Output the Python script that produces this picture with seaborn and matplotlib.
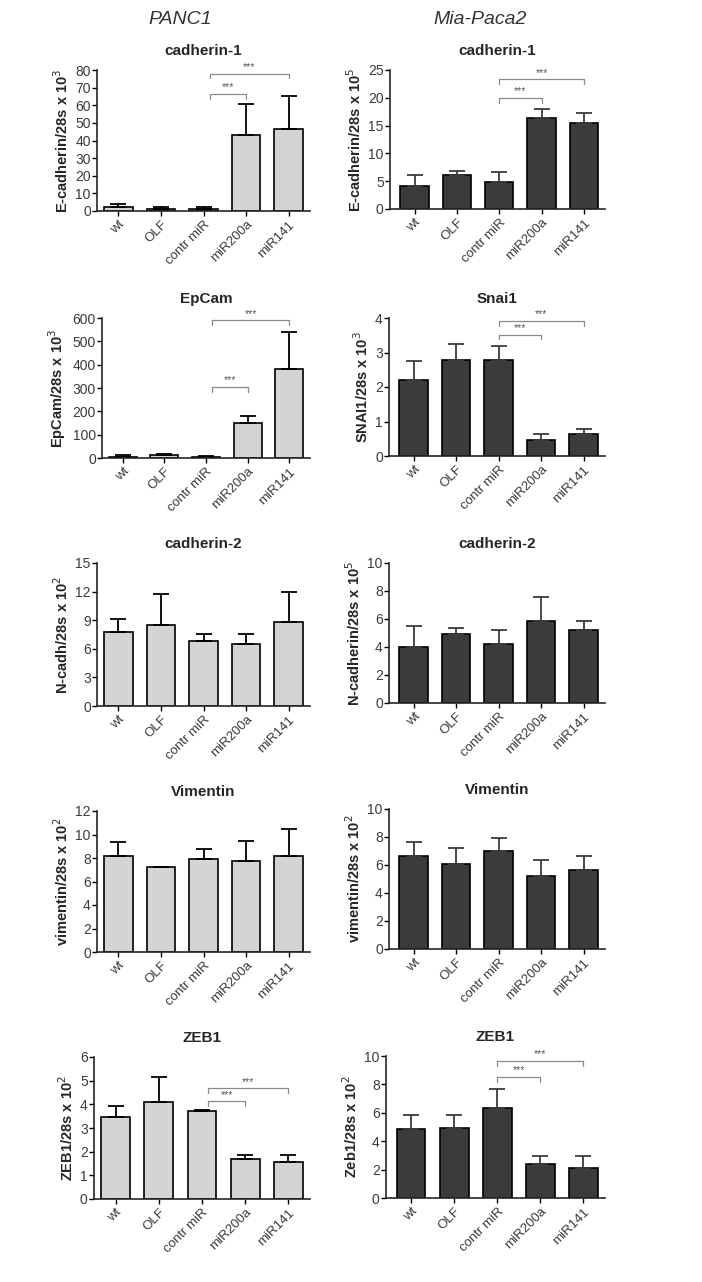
import matplotlib
matplotlib.use('Agg')
import matplotlib.pyplot as plt
import seaborn as sns
import pandas as pd

# categories shared by every panel
groups = ['wt', 'OLF', 'contr miR', 'miR200a', 'miR141']

# PANC1 (left column): bar means and upper error (SEM)
panc1_ecad = [2.1, 1.3, 1.1, 43.1, 46.3]
panc1_ecad_err = [1.9, 0.7, 0.9, 17.6, 18.7]
panc1_epcam = [6, 11, 6, 150, 381]
panc1_epcam_err = [5, 5, 4, 28, 157]
panc1_ncad = [7.8, 8.5, 6.85, 6.46, 8.78]
panc1_ncad_err = [1.3, 3.23, 0.67, 1.09, 3.2]
panc1_vim = [8.2, 7.23, 7.91, 7.72, 8.14]
panc1_vim_err = [1.16, 0.0, 0.83, 1.73, 2.3]
panc1_zeb = [3.47, 4.09, 3.70, 1.67, 1.57]
panc1_zeb_err = [0.45, 1.07, 0.04, 0.18, 0.30]

# Mia-Paca2 (right column)
mia_ecad = [4.07, 6.04, 4.78, 16.45, 15.55]
mia_ecad_err = [1.97, 0.76, 1.8, 1.45, 1.65]
mia_snai = [2.21, 2.77, 2.78, 0.45, 0.65]
mia_snai_err = [0.53, 0.47, 0.42, 0.18, 0.12]
mia_ncad = [4.02, 4.93, 4.19, 5.86, 5.22]
mia_ncad_err = [1.51, 0.40, 1.03, 1.70, 0.62]
mia_vim = [6.66, 6.06, 6.97, 5.18, 5.66]
mia_vim_err = [0.98, 1.15, 0.98, 1.19, 1.0]
mia_zeb = [4.85, 4.92, 6.32, 2.37, 2.11]
mia_zeb_err = [0.96, 0.93, 1.34, 0.56, 0.86]

left_titles = ['cadherin-1', 'EpCam', 'cadherin-2', 'Vimentin', 'ZEB1']
right_titles = ['cadherin-1', 'Snai1', 'cadherin-2', 'Vimentin', 'ZEB1']
left_ylabels = ['E-cadherin/28s x 10$^3$', 'EpCam/28s x 10$^3$', 'N-cadh/28s x 10$^2$',
                'vimentin/28s x 10$^2$', 'ZEB1/28s x 10$^2$']
right_ylabels = ['E-cadherin/28s x 10$^5$', 'SNAI1/28s x 10$^3$', 'N-cadherin/28s x 10$^5$',
                 'vimentin/28s x 10$^2$', 'Zeb1/28s x 10$^2$']
left_ymax = [80, 600, 15, 12, 6]
left_ystep = [10, 100, 3, 2, 1]
right_ymax = [25, 4, 10, 10, 10]
right_ystep = [5, 1, 2, 2, 2]

# significance brackets: (from group, to group, height as fraction of y max)
left_sig = [[(2, 3, 0.83), (2, 4, 0.975)],
            [(2, 3, 0.51), (2, 4, 0.985)],
            [], [],
            [(2, 3, 0.69), (2, 4, 0.78)]]
right_sig = [[(2, 3, 0.80), (2, 4, 0.935)],
             [(2, 3, 0.88), (2, 4, 0.98)],
             [], [],
             [(2, 3, 0.854), (2, 4, 0.967)]]

left_data = [(panc1_ecad, panc1_ecad_err), (panc1_epcam, panc1_epcam_err),
             (panc1_ncad, panc1_ncad_err), (panc1_vim, panc1_vim_err),
             (panc1_zeb, panc1_zeb_err)]
right_data = [(mia_ecad, mia_ecad_err), (mia_snai, mia_snai_err),
              (mia_ncad, mia_ncad_err), (mia_vim, mia_vim_err),
              (mia_zeb, mia_zeb_err)]

sns.set_style('ticks')
plt.rcParams['font.family'] = ['Liberation Sans', 'DejaVu Sans']

W, H = 702, 1282
fig = plt.figure(figsize=(W / 100, H / 100), dpi=100)

# axes boxes in pixels: (left spine, right end, top, bottom)
left_boxes = [(97, 310, 70, 211), (102, 310, 318, 458), (97, 310, 563, 706),
              (97, 310, 811, 952), (94, 310, 1057, 1199)]
right_boxes = [(390, 605, 70, 209), (389, 605, 318, 456), (389, 605, 563, 703),
               (389, 605, 809, 949), (386, 605, 1056, 1198)]


def draw_panel(box, vals, errs, title, ylabel, ymax, ystep, sigs, color, ecolor, xmin, shift):
    x0, x1, top, bottom = box
    ax = fig.add_axes([x0 / W, 1 - bottom / H, (x1 - x0) / W, (bottom - top) / H])
    df = pd.DataFrame({'group': groups, 'value': vals})
    sns.barplot(data=df, x='group', y='value', color=color, edgecolor='black',
                linewidth=1.2, width=0.67, saturation=1, errorbar=None, ax=ax)
    lower = [0] * len(errs)
    ax.errorbar(range(len(vals)), vals, yerr=[lower, errs], fmt='none',
                ecolor=ecolor, elinewidth=1.3, capsize=6, capthick=1.3, zorder=1)
    ax.set_xlim(xmin, 4.5)
    ax.set_ylim(0, ymax)
    ax.set_yticks(range(0, ymax + 1, ystep))
    ax.set_xlabel('')
    ax.set_ylabel(ylabel, fontsize=10.5, fontweight='bold', labelpad=3)
    ax.set_title(title, fontsize=11, fontweight='bold', pad=11)
    ax.tick_params(axis='both', direction='out', length=3.5, width=1, colors='black',
                   labelcolor='#3a3a3a', labelsize=10, pad=1)
    ax.tick_params(axis='x', labelsize=9.5, pad=2)
    plt.setp(ax.get_xticklabels(), rotation=45, ha='right', rotation_mode='anchor')
    sns.despine(ax=ax)
    for s in ['left', 'bottom']:
        ax.spines[s].set_linewidth(1.2)
    for a, b, frac in sigs:
        y = frac * ymax
        leg = 0.035 * ymax
        xa = a + shift
        ax.plot([xa, xa, b, b], [y - leg, y, y, y - leg], color='#8a8a8a', lw=0.9,
                clip_on=False)
        ax.text((xa + b) / 2, y + 0.01 * ymax, '***', ha='center', va='bottom',
                fontsize=7.5, color='#555555')
    return ax


for i in range(5):
    vals, errs = left_data[i]
    draw_panel(left_boxes[i], vals, errs, left_titles[i], left_ylabels[i],
               left_ymax[i], left_ystep[i], left_sig[i], '#d4d4d4', 'black', -0.5, 0.15)
    vals, errs = right_data[i]
    draw_panel(right_boxes[i], vals, errs, right_titles[i], right_ylabels[i],
               right_ymax[i], right_ystep[i], right_sig[i], '#3b3b3b', '#3b3b3b', -0.58, 0.0)

fig.text(180 / W, 1 - 20 / H, 'PANC1', fontsize=14, style='italic', color='#333333',
         ha='center', va='center')
fig.text(480 / W, 1 - 20 / H, 'Mia-Paca2', fontsize=14, style='italic', color='#333333',
         ha='center', va='center')

fig.savefig('out.png', dpi=100, facecolor='white')
